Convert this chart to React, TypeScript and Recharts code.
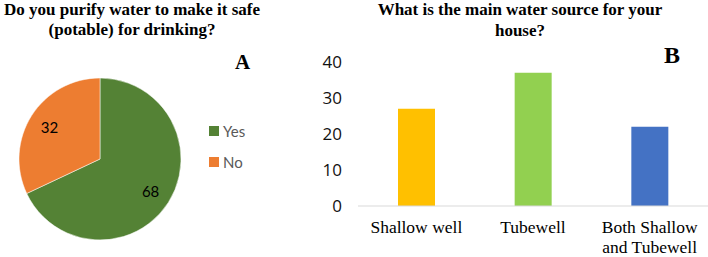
import React from "react";
import { Bar, BarChart, Cell, Legend, Pie, PieChart, XAxis, YAxis } from "recharts";

// Chart A: purification
const purifyLabels = ["Yes", "No"];
const purifyValues = [68, 32];
const purifyColors = ["#548235", "#ED7D31"];

// Chart B: water source
const sourceLabels = ["Shallow well", "Tubewell", "Both Shallow\nand Tubewell"];
const sourceValues = [27, 37, 22];
const sourceColors = ["#FFC000", "#92D050", "#4472C4"];
const sourceTicks = [0, 10, 20, 30, 40];

const pieData = purifyLabels.map((name, i) => ({ name, value: purifyValues[i] }));
const barData = sourceLabels.map((name, i) => ({ name, value: sourceValues[i] }));

const SERIF = "'Liberation Serif', 'Times New Roman', serif";
const SANS = "Lato, 'Open Sans', sans-serif";
const RAD = Math.PI / 180;

function PieLabel(props: any) {
  const { cx, cy, midAngle, outerRadius, value } = props;
  const r = outerRadius * 0.74;
  const x = cx + r * Math.cos(-midAngle * RAD);
  const y = cy + r * Math.sin(-midAngle * RAD);
  return (
    <text x={x} y={y} fill="#000" fontSize={15} fontFamily={SANS} textAnchor="middle" dominantBaseline="central">
      {value}
    </text>
  );
}

function PieLegend(props: any) {
  const { payload } = props;
  const items = [...(payload || [])].sort(
    (a: any, b: any) => purifyLabels.indexOf(a.value) - purifyLabels.indexOf(b.value)
  );
  return (
    <ul style={{ listStyle: "none", margin: 0, padding: 0 }}>
      {items.map((entry: any) => (
        <li
          key={entry.value}
          style={{ display: "flex", alignItems: "center", height: 31, fontFamily: SANS, fontSize: 15, color: "#595959" }}
        >
          <span style={{ display: "inline-block", width: 10, height: 10, background: entry.color, marginRight: 4 }} />
          {entry.value}
        </li>
      ))}
    </ul>
  );
}

function SourceTick(props: any) {
  const { x, y, payload } = props;
  const lines = String(payload.value).split("\n");
  return (
    <g transform={`translate(${x},${y})`}>
      <text textAnchor="middle" fill="#000" fontSize={17.5} fontFamily={SERIF}>
        {lines.map((line, i) => (
          <tspan key={i} x={0} dy={i === 0 ? 19 : 20}>
            {line}
          </tspan>
        ))}
      </text>
    </g>
  );
}

export default function App() {
  return (
    <div style={{ position: "absolute", left: 0, top: 0, width: 708, height: 257, background: "#fff", overflow: "hidden" }}>
      <div
        style={{
          position: "absolute",
          left: 0,
          top: 0,
          width: 264,
          textAlign: "center",
          fontFamily: SERIF,
          fontWeight: "bold",
          fontSize: 17,
          lineHeight: "20px",
        }}
      >
        Do you purify water to make it safe
        <br />
        (potable) for drinking?
      </div>
      <div style={{ position: "absolute", left: 235, top: 52, fontFamily: SERIF, fontWeight: "bold", fontSize: 21, lineHeight: 1 }}>
        A
      </div>

      <div style={{ position: "absolute", left: 0, top: 0 }}>
        <PieChart width={310} height={257} margin={{ top: 0, right: 0, bottom: 0, left: 0 }}>
          <Pie
            data={pieData}
            dataKey="value"
            nameKey="name"
            cx={100}
            cy={159}
            outerRadius={81}
            startAngle={90}
            endAngle={-270}
            stroke="#fff"
            strokeWidth={0.5}
            label={PieLabel}
            labelLine={false}
            isAnimationActive={false}
          >
            {pieData.map((d, i) => (
              <Cell key={d.name} fill={purifyColors[i]} />
            ))}
          </Pie>
          <Legend
            layout="vertical"
            verticalAlign="top"
            align="right"
            content={PieLegend}
            wrapperStyle={{ left: 209, top: 115, width: 60 }}
          />
        </PieChart>
      </div>

      <div
        style={{
          position: "absolute",
          left: 370,
          top: -1,
          width: 300,
          textAlign: "center",
          fontFamily: SERIF,
          fontWeight: "bold",
          fontSize: 17,
          lineHeight: "21px",
        }}
      >
        What is the main water source for your
        <br />
        house?
      </div>
      <div style={{ position: "absolute", left: 664, top: 43, fontFamily: SERIF, fontWeight: "bold", fontSize: 24, lineHeight: 1 }}>
        B
      </div>

      <div style={{ position: "absolute", left: 310, top: 0 }}>
        <BarChart width={398} height={257} data={barData} margin={{ top: 62, right: 0, bottom: 0, left: 0 }}>
          <XAxis
            dataKey="name"
            axisLine={{ stroke: "#d9d9d9" }}
            tickLine={false}
            tick={SourceTick}
            interval={0}
            height={51}
          />
          <YAxis
            domain={[0, 40]}
            ticks={sourceTicks}
            axisLine={false}
            tickLine={false}
            width={48}
            tickMargin={10}
            tick={{ fill: "#111", fontSize: 17, fontFamily: "'Open Sans', sans-serif" }}
          />
          <Bar dataKey="value" barSize={37} isAnimationActive={false}>
            {barData.map((d, i) => (
              <Cell key={d.name} fill={sourceColors[i]} />
            ))}
          </Bar>
        </BarChart>
      </div>
    </div>
  );
}
